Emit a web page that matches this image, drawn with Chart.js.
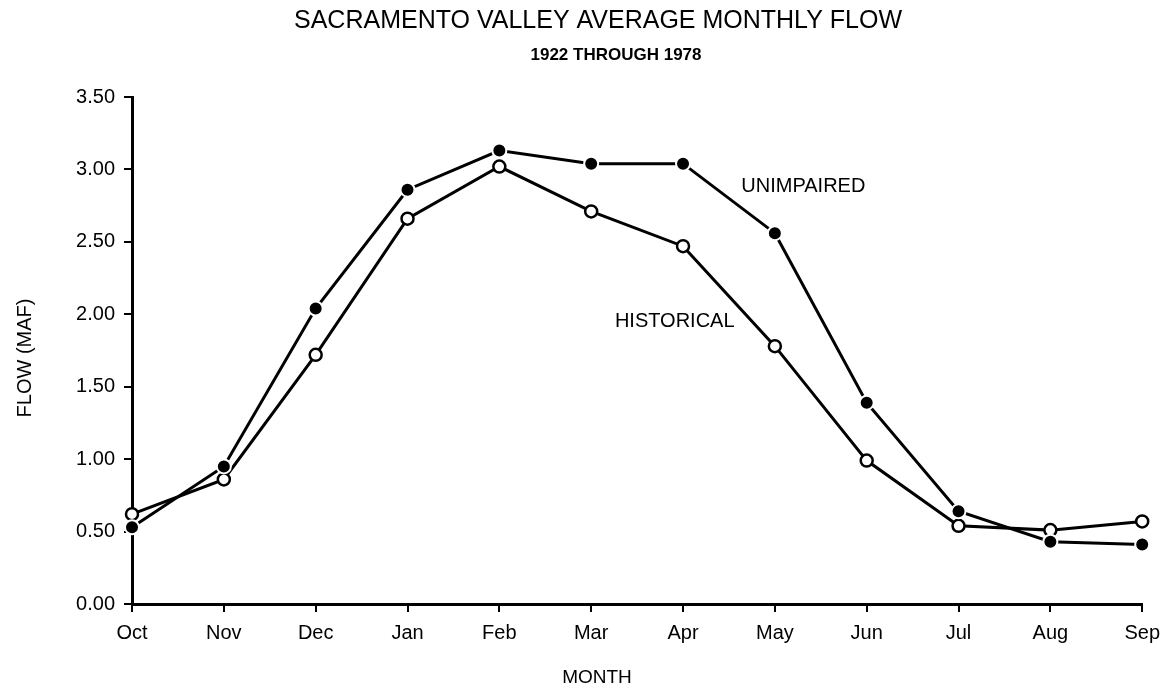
<!DOCTYPE html>
<html>
<head>
<meta charset="utf-8">
<title>Sacramento Valley Average Monthly Flow</title>
<script src="https://cdn.jsdelivr.net/npm/chart.js@4.4.1/dist/chart.umd.min.js"></script>
<style>
  html, body { margin: 0; padding: 0; background: #fff; }
  #flow-chart { display: block; }
</style>
</head>
<body>
<canvas id="flow-chart" width="1169" height="694"></canvas>
<script>
const months = ["Oct", "Nov", "Dec", "Jan", "Feb", "Mar", "Apr", "May", "Jun", "Jul", "Aug", "Sep"];
const unimpairedFlow = [0.53, 0.95, 2.04, 2.86, 3.13, 3.04, 3.04, 2.56, 1.39, 0.64, 0.43, 0.41];
const historicalFlow = [0.62, 0.86, 1.72, 2.66, 3.02, 2.71, 2.47, 1.78, 0.99, 0.54, 0.51, 0.57];
const flowTicks = [0, 0.5, 1, 1.5, 2, 2.5, 3, 3.5];

const FONT = "'Liberation Sans', Arial, Helvetica, sans-serif";
const INK = "#000";

// series names are written next to their lines, placed in data units (month index, MAF)
const seriesLabels = [
  { text: "UNIMPAIRED", x: 7.31, y: 2.88 },
  { text: "HISTORICAL", x: 5.91, y: 1.95 }
];

const chartText = {
  id: "chartText",
  afterDraw(chart) {
    const { ctx, scales } = chart;
    ctx.save();
    ctx.fillStyle = INK;
    ctx.textAlign = "center";
    ctx.textBaseline = "middle";

    ctx.font = `25px ${FONT}`;
    ctx.fillText("SACRAMENTO VALLEY AVERAGE MONTHLY FLOW", 598, 21);

    ctx.font = `bold 17px ${FONT}`;
    ctx.fillText("1922 THROUGH 1978", 616, 55);

    ctx.font = `19px ${FONT}`;
    ctx.fillText("MONTH", 597, 678);

    ctx.save();
    ctx.translate(25, 358);
    ctx.rotate(-Math.PI / 2);
    ctx.font = `20px ${FONT}`;
    ctx.fillText("FLOW (MAF)", 0, 0);
    ctx.restore();

    ctx.font = `20px ${FONT}`;
    seriesLabels.forEach(label => {
      ctx.fillText(label.text, scales.x.getPixelForValue(label.x), scales.y.getPixelForValue(label.y));
    });
    ctx.restore();
  }
};

const canvas = document.getElementById("flow-chart");

new Chart(canvas, {
  type: "line",
  data: {
    labels: months,
    datasets: [
      {
        label: "UNIMPAIRED",
        data: unimpairedFlow,
        borderColor: "#000",
        borderWidth: 3,
        tension: 0,
        pointRadius: 7,
        pointBackgroundColor: "#000",
        pointBorderColor: "#fff",
        pointBorderWidth: 2,
        clip: false
      },
      {
        label: "HISTORICAL",
        data: historicalFlow,
        borderColor: "#000",
        borderWidth: 3,
        tension: 0,
        pointRadius: 6,
        pointBackgroundColor: "#fff",
        pointBorderColor: "#000",
        pointBorderWidth: 2.5,
        clip: false
      }
    ]
  },
  options: {
    responsive: false,
    animation: false,
    layout: {
      padding: { top: 97, right: 26, bottom: 0, left: 0 }
    },
    scales: {
      x: {
        type: "category",
        offset: false,
        afterFit: scale => { scale.height = 90; },
        border: { display: true, color: "#000", width: 3 },
        grid: {
          offset: false,
          drawOnChartArea: false,
          drawTicks: true,
          tickLength: 8,
          color: "#000",
          lineWidth: 2
        },
        ticks: {
          color: INK,
          padding: 9,
          maxRotation: 0,
          autoSkip: false,
          font: { family: FONT, size: 20 }
        }
      },
      y: {
        min: 0,
        max: 3.5,
        afterBuildTicks: scale => {
          scale.ticks = flowTicks.map(value => ({ value }));
        },
        afterFit: scale => { scale.width = 132; },
        border: { display: true, color: "#000", width: 3 },
        grid: {
          drawOnChartArea: false,
          drawTicks: true,
          tickLength: 8,
          color: "#000",
          lineWidth: 2
        },
        ticks: {
          color: INK,
          padding: 9,
          font: { family: FONT, size: 20 },
          callback: value => Number(value).toFixed(2)
        }
      }
    },
    plugins: {
      legend: { display: false },
      tooltip: { enabled: false }
    }
  },
  plugins: [chartText]
});
</script>
</body>
</html>
